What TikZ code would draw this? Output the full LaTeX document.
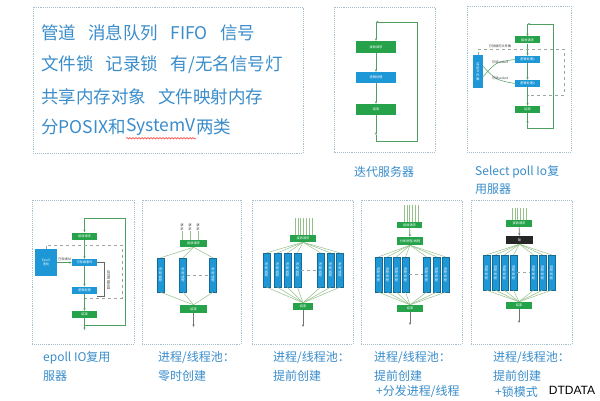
\documentclass[tikz,border=0pt]{standalone}
\usepackage{fontspec}
\setmainfont{Noto Sans CJK SC}
\newfontfamily\latinsans{Liberation Sans}
\usetikzlibrary{arrows.meta,decorations.pathmorphing}
\definecolor{txtblue}{HTML}{3A8DCB}
\definecolor{framec}{HTML}{A6BFCB}
\definecolor{gfill}{HTML}{25A24A}
\definecolor{bfill}{HTML}{1E97D7}
\definecolor{flowc}{HTML}{4E9F62}
\definecolor{poolc}{HTML}{95C08A}
\definecolor{dashc}{HTML}{9AA7A0}
\newcommand\mytiny{\fontsize{3.2}{3.7}\selectfont}
\tikzset{
  frame/.style={draw=framec, densely dotted, line width=0.9pt},
  bigtxt/.style={anchor=west, inner sep=0pt, text=txtblue, font=\fontsize{17.5}{20}\selectfont},
  captxt/.style={anchor=west, inner sep=0pt, text=txtblue, font=\fontsize{12}{14}\selectfont},
  gbox/.style={fill=gfill, text=white, inner sep=0pt, font=\mytiny},
  bbox/.style={fill=bfill, text=white, inner sep=0pt, font=\mytiny},
  kbox/.style={fill=black!85, text=white, inner sep=0pt, font=\mytiny},
  pbox/.style={fill=bfill, draw=bfill!70!black, line width=0.3pt, text=white, inner sep=0pt, font=\mytiny, align=center, minimum width=7, minimum height=34},
  flow/.style={draw=flowc, line width=0.7pt, -{Stealth[length=2.6pt,width=2.2pt]}},
  loopl/.style={draw=flowc, line width=0.7pt},
  pline/.style={draw=poolc, line width=0.5pt},
  inl/.style={draw=poolc, line width=0.5pt},
  dline/.style={draw=dashc, dashed, line width=0.5pt},
  lab/.style={inner sep=0pt, text=black!75, font=\mytiny},
}
\begin{document}
\begin{tikzpicture}[x=1pt,y=-1pt]
\useasboundingbox[fill=white] (0,0) rectangle (600,401);

% ---------- top-left text box ----------
\draw[frame] (33,7) rectangle (303,153);
\node[bigtxt] (t1) at (41,33) {管道\hspace{0.7em}消息队列\hspace{0.7em}FIFO\hspace{0.7em}信号};
\node[bigtxt] (t2) at (41,65) {文件锁\hspace{0.7em}记录锁\hspace{0.7em}有/无名信号灯};
\node[bigtxt] (t3) at (41,97) {共享内存对象\hspace{0.7em}文件映射内存};
\node[bigtxt] (t4a) at (41,127) {分POSIX和};
\node[bigtxt] (t4b) at (t4a.east) {SystemV};
\node[bigtxt] (t4c) at (t4b.east) {两类};
\draw[red!80, line width=0.5pt, decorate, decoration={snake, segment length=3pt, amplitude=0.7pt}]
  ([yshift=-2.5pt]t4b.south west) -- ([yshift=-2.5pt]t4b.south east);

% ---------- iterative server ----------
\draw[frame] (334,7) rectangle (435,152);
\node[gbox, minimum width=40, minimum height=12] (r1) at (376,47) {接收请求};
\node[bbox, minimum width=40, minimum height=11] (p1) at (376,77.5) {逻辑处理};
\node[gbox, minimum width=40, minimum height=11] (e1) at (376,109.5) {结束};
\coordinate (tl1) at (376,22); \coordinate (tr1) at (417,22);
\coordinate (br1) at (417,141); \coordinate (bl1) at (376,141);
\coordinate (ar1) at (376,135);
\draw[flow] (tl1) -- (r1.north);
\draw[flow] (r1) -- (p1);
\draw[flow] (p1) -- (e1);
\draw[flow] (e1.south) -- (ar1);
\draw[loopl] (ar1) -- (bl1) -- (br1) -- (tr1);
\draw[flow] (tr1) -- (tl1);
\node[captxt, anchor=center] (c1) at (384,172) {迭代服务器};

% ---------- select / poll ----------
\draw[frame] (467,6) rectangle (571,152);
\node[gbox, minimum width=25, minimum height=7] (r2) at (527.5,40) {接收请求};
\node[bbox, minimum width=25, minimum height=7] (p21) at (527.5,59.5) {逻辑处理1};
\node[bbox, minimum width=25, minimum height=7] (p22) at (527.5,83.5) {逻辑处理2};
\node[gbox, minimum width=25, minimum height=7] (e2) at (527.5,109.5) {结束};
\node[bbox, minimum width=10, minimum height=33, align=center] (s2) at (478,71.5) {监\\听\\文\\件\\集};
\coordinate (tl2) at (527.5,24); \coordinate (tr2) at (553,24);
\coordinate (br2) at (553,128); \coordinate (bl2) at (527.5,128);
\coordinate (ar2) at (527.5,124);
\draw[flow] (tl2) -- (r2.north);
\draw[flow] (r2) -- (p21);
\draw[flow] (p21) -- (p22);
\draw[flow] (p22) -- (e2);
\draw[flow] (e2.south) -- (ar2);
\draw[loopl] (ar2) -- (bl2) -- (br2) -- (tr2);
\draw[flow] (tr2) -- (tl2);
\coordinate (d2a) at (564,49); \coordinate (d2b) at (564,95); \coordinate (d2c) at (527.5,95);
\draw[dline] (s2.north) |- (d2a) -- (d2b) -- (d2c);
\node[lab, anchor=south] (l21) at (500,47.5) {已就绪的文件集};
\draw[draw=flowc, line width=0.5pt] ([yshift=-5pt]s2.east) .. controls (496,62) .. (p21.west);
\draw[draw=flowc, line width=0.5pt] ([yshift=5pt]s2.east) .. controls (496,80) .. (p22.west);
\node[lab] (l22) at (500,62) {可读socket};
\node[lab] (l23) at (500,78) {可读socket};
\node[captxt] (c2a) at (475,172) {Select poll Io复};
\node[captxt] (c2b) at (475,189) {用服器};

% ---------- epoll ----------
\draw[frame] (32,200) rectangle (134,344);
\node[gbox, minimum width=25, minimum height=7] (r3) at (84.5,236) {接收请求};
\node[bbox, minimum width=25, minimum height=7] (q3) at (84.5,262.5) {已就绪事件};
\node[bbox, minimum width=25, minimum height=7] (p3) at (84.5,290) {逻辑处理};
\node[gbox, minimum width=25, minimum height=7] (e3) at (84.5,314.5) {结束};
\node[bbox, minimum width=22, minimum height=27, align=center] (ep3) at (46,262.5) {Epoll\\池化};
\coordinate (tl3) at (84.5,218); \coordinate (tr3) at (125,218);
\coordinate (br3) at (125,325); \coordinate (bl3) at (84.5,325);
\coordinate (ar3) at (84.5,330);
\draw[flow] (tl3) -- (r3.north);
\draw[flow] (r3) -- (q3);
\draw[flow] (q3) -- (p3);
\draw[flow] (p3) -- (e3);
\draw[flow] (e3.south) -- (ar3);
\draw[loopl] (bl3) -- (br3) -- (tr3) -- (tl3);
\draw[flow] (ep3.east) -- (q3.west);
\node[lab, anchor=south] (l31) at (64.5,261) {已就绪fd};
\coordinate (d3a) at (122,245); \coordinate (d3b) at (122,298); \coordinate (d3c) at (84.5,298);
\draw[dline] (ep3.north) |- (d3a) -- (d3b) -- (d3c);
\coordinate (k3a) at (104,262.5); \coordinate (k3b) at (104,296);
\draw[draw=black!60, line width=0.5pt] (q3.east) -- (k3a) -- (k3b) -- (k3b -| p3.east);
\node[lab, rotate=-90] (l32) at (108.5,280) {读写数据处理};
\node[captxt] (c3a) at (43,358) {epoll IO复用};
\node[captxt] (c3b) at (43,376) {服器};

% ---------- pool: created on demand ----------
\draw[frame] (142,200) rectangle (241,344);
\node[gbox, minimum width=27, minimum height=7] (r4) at (193.5,243.5) {接收请求};
\foreach \k/\x in {1/182,2/190,3/198}{
  \node[lab, align=center, text=black!80] (q4\k) at (\x,227.5) {请\\求};
  \draw[inl] (q4\k.south) -- (q4\k.south |- r4.north);
}
\foreach \k/\x in {1/160.5,2/183,3/213}{
  \node[pbox] (b4\k) at (\x,275) {进\\程\\线\\程};
  \draw[pline] (r4.south) -- (b4\k.north);
}
\node[gbox, minimum width=27, minimum height=8] (e4) at (193.5,309) {结束};
\foreach \k in {1,2,3}{ \draw[pline] (b4\k.south) -- (e4.north); }
\draw[dline] (b42.east) -- (b43.west);
\coordinate (ar4) at (193.5,327);
\draw[flow, draw=black!55] (e4.south) -- (ar4);
\node[captxt] (c4a) at (158,358) {进程/线程池：};
\node[captxt] (c4b) at (158,376) {零时创建};

% ---------- pool: pre-created ----------
\draw[frame] (252,200) rectangle (353,344);
\node[gbox, minimum width=26, minimum height=7] (r5) at (303,238.5) {接收请求};
\foreach \k in {0,...,6}{
  \coordinate (i5\k) at (295+\k*2.8,218);
  \draw[inl] (i5\k) -- (i5\k |- r5.north);
}
\node[gbox, minimum width=20, minimum height=7] (e5) at (303,306.5) {结束};
\foreach \k/\x in {1/266.5,2/277.5,3/287.5,4/297.5,5/320.5,6/330.5,7/340}{
  \node[pbox] (b5\k) at (\x,270) {进\\程\\线\\程};
  \draw[pline] (r5.south) -- (b5\k.north);
  \draw[pline] (b5\k.south) -- (e5.north);
}
\draw[dline] (b54.east) -- (b55.west);
\coordinate (ar5) at (303,327);
\draw[flow, draw=black!55] (e5.south) -- (ar5);
\node[captxt] (c5a) at (273,358) {进程/线程池：};
\node[captxt] (c5b) at (273,376) {提前创建};

% ---------- pool: dispatcher ----------
\draw[frame] (361,200) rectangle (462,344);
\node[gbox, minimum width=25, minimum height=6] (r6) at (409.5,225) {接收请求};
\foreach \k in {0,...,5}{
  \coordinate (i6\k) at (404+\k*2.8,205);
  \draw[inl] (i6\k) -- (i6\k |- r6.north);
}
\node[gbox, minimum width=26, minimum height=8] (d6) at (410,241) {分发进程/线程};
\draw[flow] (r6) -- (d6);
\node[gbox, minimum width=26, minimum height=7] (e6) at (410,308.5) {结束};
\foreach \k/\x in {1/378.5,2/387.5,3/396.5,4/405.5,5/426.5,6/436.5,7/445.5}{
  \node[pbox, minimum height=35] (b6\k) at (\x,274.5) {进\\程\\线\\程};
  \draw[pline] (d6.south) -- (b6\k.north);
  \draw[pline] (b6\k.south) -- (e6.north);
}
\draw[dline] (b64.east) -- (b65.west);
\coordinate (ar6) at (410,325);
\draw[flow, draw=black!55] (e6.south) -- (ar6);
\node[captxt] (c6a) at (374,358) {进程/线程池：};
\node[captxt] (c6b) at (374,376) {提前创建};
\node[captxt] (c6c) at (376,392) {+分发进程/线程};

% ---------- pool: lock mode ----------
\draw[frame] (471,200) rectangle (572,344);
\node[gbox, minimum width=26, minimum height=7] (r7) at (519,223.5) {接收请求};
\foreach \k in {0,...,5}{
  \coordinate (i7\k) at (512+\k*2.8,208);
  \draw[inl] (i7\k) -- (i7\k |- r7.north);
}
\node[kbox, minimum width=27, minimum height=8] (k7) at (519.5,240) {锁};
\draw[flow, draw=black!55] (r7) -- (k7);
\node[gbox, minimum width=26, minimum height=7] (e7) at (519,305.5) {结束};
\foreach \k/\x in {1/486.5,2/495.5,3/504.5,4/513.5,5/533.5,6/542.5,7/551.5}{
  \node[pbox, minimum height=35] (b7\k) at (\x,272.5) {进\\程\\线\\程};
  \draw[pline] (k7.south) -- (b7\k.north);
  \draw[pline] (b7\k.south) -- (e7.north);
}
\draw[dline] (b74.east) -- (b75.west);
\coordinate (ar7) at (519,323);
\draw[flow, draw=black!55] (e7.south) -- (ar7);
\node[captxt] (c7a) at (493,358) {进程/线程池：};
\node[captxt] (c7b) at (493,376) {提前创建};
\node[captxt] (c7c) at (495,392) {+锁模式};

\node[inner sep=0pt, font=\latinsans\fontsize{12}{14}\selectfont] (dt) at (572,390) {DTDATA};
\end{tikzpicture}
\end{document}
